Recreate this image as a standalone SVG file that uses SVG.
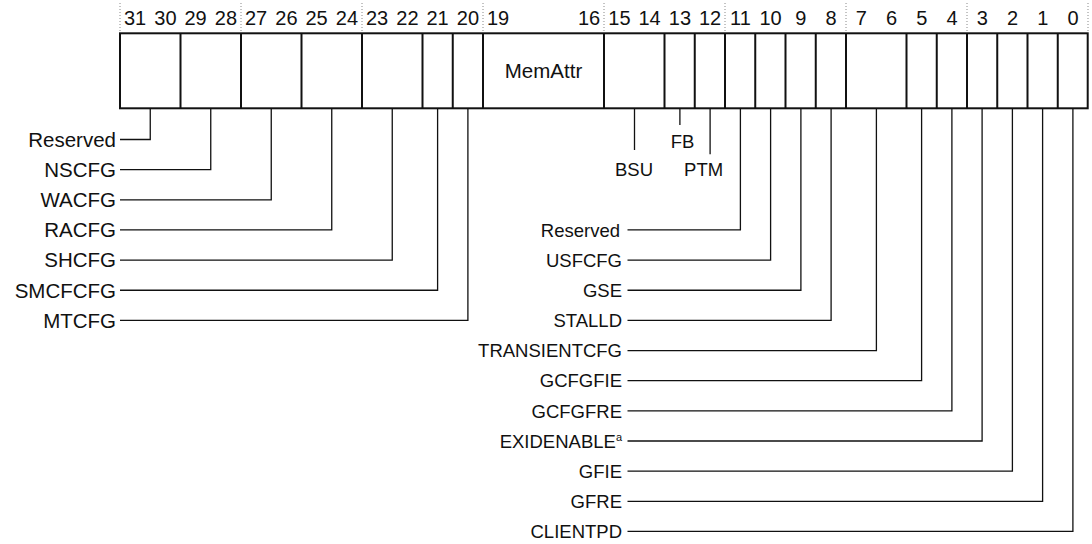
<svg xmlns="http://www.w3.org/2000/svg" width="1092" height="544" viewBox="0 0 1092 544">
<style>
text{font-family:"Liberation Sans",Arial,sans-serif;fill:#111}
.bn{font-size:20px;text-anchor:middle}
.ll{font-size:20.5px;text-anchor:end}
.rl{font-size:18.5px;text-anchor:end}
.cl{font-size:18.5px;text-anchor:middle}
.box{fill:#fff;stroke:#111;stroke-width:2}
.div{stroke:#111;stroke-width:2}
.dot{stroke:#888;stroke-width:1;stroke-dasharray:1 2}
.con{fill:none;stroke:#111;stroke-width:1.3}
</style>
<rect width="1092" height="544" fill="#fff"/>
<g id="separators">
<line class="dot" x1="120" y1="3" x2="120" y2="33"/>
<line class="dot" x1="241" y1="3" x2="241" y2="33"/>
<line class="dot" x1="362" y1="3" x2="362" y2="33"/>
<line class="dot" x1="483" y1="3" x2="483" y2="33"/>
<line class="dot" x1="604" y1="3" x2="604" y2="33"/>
<line class="dot" x1="725" y1="3" x2="725" y2="33"/>
<line class="dot" x1="846" y1="3" x2="846" y2="33"/>
<line class="dot" x1="967" y1="3" x2="967" y2="33"/>
<line class="dot" x1="1088" y1="3" x2="1088" y2="33"/>
</g>
<g id="bit-numbers">
<text class="bn" x="135.1" y="25">31</text>
<text class="bn" x="165.4" y="25">30</text>
<text class="bn" x="195.6" y="25">29</text>
<text class="bn" x="225.9" y="25">28</text>
<text class="bn" x="256.1" y="25">27</text>
<text class="bn" x="286.4" y="25">26</text>
<text class="bn" x="316.6" y="25">25</text>
<text class="bn" x="346.9" y="25">24</text>
<text class="bn" x="377.1" y="25">23</text>
<text class="bn" x="407.4" y="25">22</text>
<text class="bn" x="437.6" y="25">21</text>
<text class="bn" x="467.9" y="25">20</text>
<text class="bn" x="498.1" y="25">19</text>
<text class="bn" x="589.1" y="25">16</text>
<text class="bn" x="619.4" y="25">15</text>
<text class="bn" x="649.6" y="25">14</text>
<text class="bn" x="679.9" y="25">13</text>
<text class="bn" x="710.1" y="25">12</text>
<text class="bn" x="740.4" y="25">11</text>
<text class="bn" x="770.6" y="25">10</text>
<text class="bn" x="800.9" y="25">9</text>
<text class="bn" x="831.1" y="25">8</text>
<text class="bn" x="861.4" y="25">7</text>
<text class="bn" x="891.6" y="25">6</text>
<text class="bn" x="921.9" y="25">5</text>
<text class="bn" x="952.1" y="25">4</text>
<text class="bn" x="982.4" y="25">3</text>
<text class="bn" x="1012.6" y="25">2</text>
<text class="bn" x="1042.9" y="25">1</text>
<text class="bn" x="1073.1" y="25">0</text>
</g>
<g id="register">
<rect class="box" x="120" y="33.3" width="967.7" height="75"/>
<path class="div" d="M180.5 33.3V108.3M241 33.3V108.3M301.5 33.3V108.3M362 33.3V108.3M422.5 33.3V108.3M452.75 33.3V108.3M483 33.3V108.3M604 33.3V108.3M664.5 33.3V108.3M694.75 33.3V108.3M725 33.3V108.3M755.25 33.3V108.3M785.5 33.3V108.3M815.75 33.3V108.3M846 33.3V108.3M906.5 33.3V108.3M936.75 33.3V108.3M967 33.3V108.3M997.25 33.3V108.3M1027.5 33.3V108.3M1057.75 33.3V108.3"/>
<text x="543.5" y="78.3" style="font-size:20.5px;text-anchor:middle">MemAttr</text>
</g>
<g id="connectors">
<path class="con" d="M150.25 108.3V139.5H120"/>
<path class="con" d="M210.75 108.3V169.65H120"/>
<path class="con" d="M271.25 108.3V199.8H120"/>
<path class="con" d="M331.75 108.3V229.95H120"/>
<path class="con" d="M392.25 108.3V260.1H120"/>
<path class="con" d="M437.6 108.3V290.25H120"/>
<path class="con" d="M467.9 108.3V320.4H120"/>
<path class="con" d="M634.5 108.3V150"/>
<path class="con" d="M679.9 108.3V125"/>
<path class="con" d="M710.1 108.3V154.3"/>
<path class="con" d="M740.4 108.3V229.95H627.5"/>
<path class="con" d="M770.6 108.3V260.1H627.5"/>
<path class="con" d="M800.9 108.3V290.25H627.5"/>
<path class="con" d="M831.1 108.3V320.4H627.5"/>
<path class="con" d="M876.4 108.3V350.55H627.5"/>
<path class="con" d="M921.6 108.3V380.7H627.5"/>
<path class="con" d="M951.9 108.3V410.85H627.5"/>
<path class="con" d="M982.1 108.3V441H627.5"/>
<path class="con" d="M1012.4 108.3V471.15H627.5"/>
<path class="con" d="M1042.6 108.3V501.3H627.5"/>
<path class="con" d="M1072.9 108.3V531.45H627.5"/>
</g>
<g id="label-reserved-31-30"><text class="ll" x="116" y="146.8">Reserved</text></g>
<g id="label-nscfg"><text class="ll" x="116" y="176.9">NSCFG</text></g>
<g id="label-wacfg"><text class="ll" x="116" y="207.1">WACFG</text></g>
<g id="label-racfg"><text class="ll" x="116" y="237.2">RACFG</text></g>
<g id="label-shcfg"><text class="ll" x="116" y="267.4">SHCFG</text></g>
<g id="label-smcfcfg"><text class="ll" x="116" y="297.5">SMCFCFG</text></g>
<g id="label-mtcfg"><text class="ll" x="116" y="327.7">MTCFG</text></g>
<g id="label-bsu"><text class="cl" x="634" y="176">BSU</text></g>
<g id="label-fb"><text class="cl" x="682.5" y="148">FB</text></g>
<g id="label-ptm"><text class="cl" x="703.6" y="176">PTM</text></g>
<g id="label-reserved-11"><text class="rl" x="620" y="236.6">Reserved</text></g>
<g id="label-usfcfg"><text class="rl" x="622" y="266.7">USFCFG</text></g>
<g id="label-gse"><text class="rl" x="622" y="296.9">GSE</text></g>
<g id="label-stalld"><text class="rl" x="622" y="327">STALLD</text></g>
<g id="label-transientcfg"><text class="rl" x="622" y="357.2">TRANSIENTCFG</text></g>
<g id="label-gcfgfie"><text class="rl" x="622" y="387.3">GCFGFIE</text></g>
<g id="label-gcfgfre"><text class="rl" x="622" y="417.5">GCFGFRE</text></g>
<g id="label-exidenable"><text class="rl" x="622" y="447.6">EXIDENABLE<tspan dy="-7" style="font-size:11px">a</tspan></text></g>
<g id="label-gfie"><text class="rl" x="622" y="477.8">GFIE</text></g>
<g id="label-gfre"><text class="rl" x="622" y="507.9">GFRE</text></g>
<g id="label-clientpd"><text class="rl" x="622" y="538.1">CLIENTPD</text></g>
</svg>
